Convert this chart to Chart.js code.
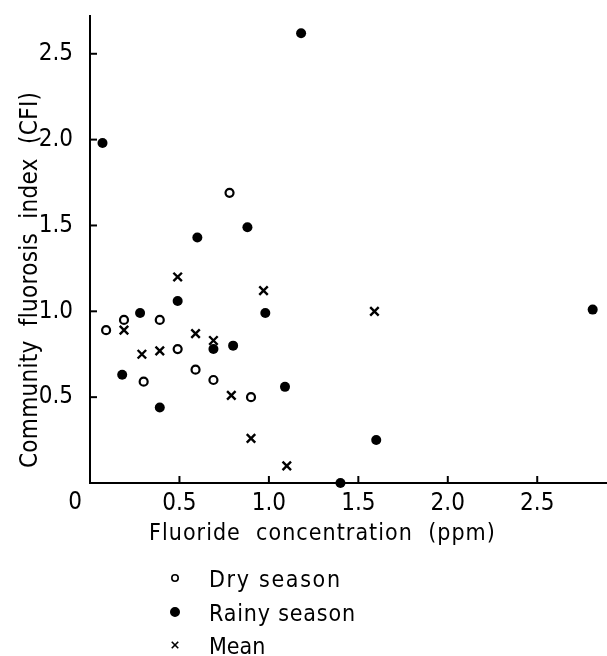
<!DOCTYPE html>
<html><head><meta charset="utf-8">
<script src="https://cdn.jsdelivr.net/npm/chart.js@4.4.1/dist/chart.umd.min.js"></script>
<style>html,body{margin:0;padding:0;background:#fff;}#wrap{width:607px;height:656px;position:relative;}</style>
</head><body><div id="wrap"><canvas id="c" width="607" height="656"></canvas></div>
<script>
// ---- data ----
const dryX   = [0.09, 0.19, 0.30, 0.39, 0.49, 0.59, 0.69, 0.78, 0.90];
const dryY   = [0.89, 0.95, 0.59, 0.95, 0.78, 0.66, 0.60, 1.69, 0.50];
const rainyX = [0.07, 0.18, 0.28, 0.39, 0.49, 0.60, 0.69, 0.80, 0.88, 0.98, 1.09, 1.18, 1.40, 1.60, 2.81];
const rainyY = [1.98, 0.63, 0.99, 0.44, 1.06, 1.43, 0.78, 0.80, 1.49, 0.99, 0.56, 2.62, 0.00, 0.25, 1.01];
const meanX  = [0.19, 0.29, 0.39, 0.49, 0.59, 0.69, 0.79, 0.90, 0.97, 1.10, 1.59];
const meanY  = [0.89, 0.75, 0.77, 1.20, 0.87, 0.83, 0.51, 0.26, 1.12, 0.10, 1.00];
const xTicks = [0.5, 1.0, 1.5, 2.0, 2.5];
const yTicks = [0.5, 1.0, 1.5, 2.0, 2.5];
const seriesNames = ['Dry season', 'Rainy season', 'Mean'];
const xTitle = 'Fluoride  concentration  (ppm)';
const yTitle = 'Community  fluorosis  index  (CFI)';
const originLabel = '0';

const FONT = '"DejaVu Sans Condensed", "Liberation Sans Narrow", "Liberation Sans", sans-serif';
const INK = '#000';

function pts(xs, ys) { return xs.map((x, i) => ({ x: x, y: ys[i] })); }

function fitText(ctx, text, x, y, width, size) {
  ctx.font = size + 'px ' + FONT;
  ctx.letterSpacing = '0px';
  const w = ctx.measureText(text).width;
  const sp = Math.max(0, (width - w) / Math.max(1, text.length - 1));
  ctx.letterSpacing = sp.toFixed(2) + 'px';
  ctx.textAlign = 'left';
  ctx.textBaseline = 'alphabetic';
  ctx.fillText(text, x, y);
  ctx.letterSpacing = '0px';
}

const decor = {
  id: 'decor',
  afterDraw(chart) {
    const { ctx, chartArea: a, scales: { x, y } } = chart;
    ctx.save();
    ctx.strokeStyle = INK; ctx.lineWidth = 2; ctx.fillStyle = INK;
    // inward tick marks
    x.ticks.forEach(t => { const px = x.getPixelForValue(t.value); ctx.beginPath(); ctx.moveTo(px, a.bottom); ctx.lineTo(px, a.bottom - 7); ctx.stroke(); });
    y.ticks.forEach(t => { const py = y.getPixelForValue(t.value); ctx.beginPath(); ctx.moveTo(a.left, py); ctx.lineTo(a.left + 7, py); ctx.stroke(); });
    // origin label
    ctx.font = '24px ' + FONT; ctx.textAlign = 'center'; ctx.textBaseline = 'alphabetic';
    ctx.fillText(originLabel, x.getPixelForValue(0) - 15, a.bottom + 26);
    // axis titles
    fitText(ctx, xTitle, a.left + 59, a.bottom + 57, 346, 23);
    ctx.save(); ctx.translate(a.left - 53, a.bottom - 15); ctx.rotate(-Math.PI / 2);
    fitText(ctx, yTitle, 0, 0, 376, 24); ctx.restore();
    // legend
    const rows = [95, 129, 162];
    const sizes = [3.2, 4.2, 4.6];
    const widths = [131, 146, 54];
    chart.data.datasets.forEach((ds, i) => {
      const cy = a.bottom + rows[i];
      ctx.fillStyle = ds.pointBackgroundColor; ctx.strokeStyle = ds.pointBorderColor;
      ctx.lineWidth = ds.pointBorderWidth > 0 ? Math.min(1.6, ds.pointBorderWidth) : 0;
      Chart.helpers.drawPoint(ctx, { pointStyle: ds.pointStyle, radius: sizes[i], borderWidth: ctx.lineWidth, rotation: 0 }, a.left + 85, cy);
      ctx.fillStyle = INK;
      fitText(ctx, ds.label, a.left + 119, cy + 9, widths[i], 23);
    });
    ctx.restore();
  }
};

new Chart(document.getElementById('c'), {
  type: 'scatter',
  data: {
    datasets: [
      { label: seriesNames[0], data: pts(dryX, dryY), pointStyle: 'circle', pointRadius: 4,
        pointBackgroundColor: '#fff', pointBorderColor: INK, pointBorderWidth: 2.2, clip: false },
      { label: seriesNames[1], data: pts(rainyX, rainyY), pointStyle: 'circle', pointRadius: 5,
        pointBackgroundColor: INK, pointBorderColor: INK, pointBorderWidth: 0, clip: false },
      { label: seriesNames[2], data: pts(meanX, meanY), pointStyle: 'crossRot', pointRadius: 6,
        pointBackgroundColor: INK, pointBorderColor: INK, pointBorderWidth: 2.4, clip: false }
    ]
  },
  options: {
    responsive: false, animation: false, events: [],
    layout: { autoPadding: false, padding: { top: 16, left: 0, right: 0, bottom: 0 } },
    plugins: { legend: { display: false }, tooltip: { enabled: false } },
    scales: {
      x: {
        type: 'linear', position: 'bottom', min: 0, max: 2.89,
        afterBuildTicks: s => { s.ticks = xTicks.map(v => ({ value: v })); },
        afterFit: s => { s.height = 173; s.paddingLeft = 0; s.paddingRight = 0; },
        grid: { display: true, drawOnChartArea: false, drawTicks: false },
        border: { display: true, color: INK, width: 2 },
        ticks: { padding: 6, color: INK, font: { family: FONT, size: 24 }, maxRotation: 0, autoSkip: false,
                 callback: v => Number(v).toFixed(1) }
      },
      y: {
        type: 'linear', position: 'left', min: 0, max: 2.72,
        afterBuildTicks: s => { s.ticks = yTicks.map(v => ({ value: v })); },
        afterFit: s => { s.width = 90; s.paddingTop = 0; s.paddingBottom = 0; },
        grid: { display: true, drawOnChartArea: false, drawTicks: false },
        border: { display: true, color: INK, width: 2 },
        ticks: { padding: 17, color: INK, font: { family: FONT, size: 24 }, autoSkip: false,
                 callback: v => Number(v).toFixed(1) }
      }
    }
  },
  plugins: [decor]
});
</script></body></html>
